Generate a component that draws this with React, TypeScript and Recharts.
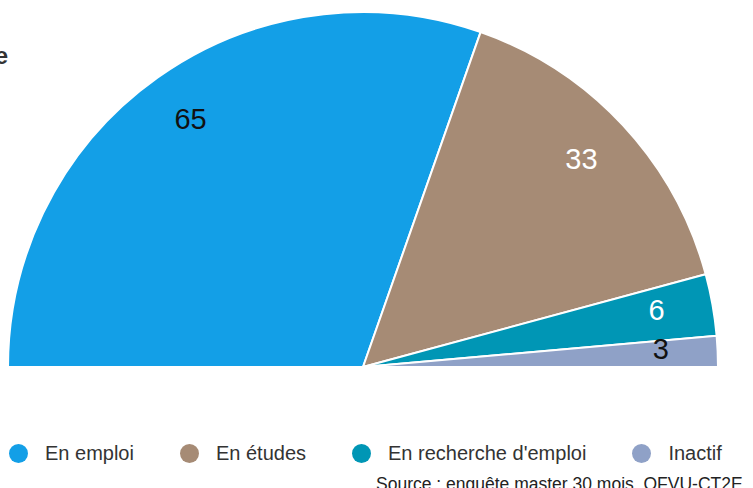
import { PieChart, Pie, Cell } from 'recharts'

const categories = ['En emploi', 'En études', "En recherche d'emploi", 'Inactif']
const values = [65, 33, 6, 3]
const colors = ['#139FE7', '#A68B75', '#0096B5', '#8FA1C7']
const labelColors = ['#111', '#fff', '#fff', '#111']
const title = 'Situation 30 mois après le diplôme'
const source = 'Source : enquête master 30 mois, OFVU-CT2E'

const data = categories.map((name, i) => ({ name, value: values[i] }))
const RAD = Math.PI / 180
const font = 'Liberation Sans, Arial'

function SliceLabel({ cx, cy, midAngle, outerRadius, index, value }: any) {
  const r = outerRadius * 0.84
  const x = cx + r * Math.cos(-midAngle * RAD)
  const y = cy + r * Math.sin(-midAngle * RAD) - 5
  return (
    <text x={x} y={y} fill={labelColors[index]} textAnchor="middle" dominantBaseline="central"
      style={{ fontFamily: font, fontSize: 29 }}>
      {value}
    </text>
  )
}

export default function App() {
  return (
    <div style={{ position: 'fixed', left: 0, top: 0, width: 753, height: 488, overflow: 'hidden', background: '#fff' }}>
      <div style={{ position: 'absolute', right: 745, top: 42, whiteSpace: 'nowrap', fontFamily: font, fontWeight: 700, fontSize: 24, color: '#333' }}>
        {title}
      </div>
      <PieChart width={753} height={488} margin={{ top: 0, right: 0, bottom: 0, left: 0 }}>
        <Pie data={data} dataKey="value" nameKey="name" cx={363} cy={367} outerRadius={355}
          startAngle={180} endAngle={0} stroke="#fff" strokeWidth={2}
          label={SliceLabel} labelLine={false} isAnimationActive={false}>
          {data.map((d, i) => <Cell key={d.name} fill={colors[i]} />)}
        </Pie>
      </PieChart>
      <div style={{ position: 'absolute', left: 9, top: 442, display: 'flex', alignItems: 'center', whiteSpace: 'nowrap', fontFamily: font, fontSize: 20, color: '#333' }}>
        {data.map((d, i) => (
          <div key={d.name} style={{ display: 'flex', alignItems: 'center', marginRight: 46 }}>
            <div style={{ width: 19, height: 19, borderRadius: '50%', background: colors[i], marginRight: 17 }} />
            <span>{d.name}</span>
          </div>
        ))}
      </div>
      <div style={{ position: 'absolute', left: 376, top: 474, whiteSpace: 'nowrap', fontFamily: font, fontSize: 17.5, color: '#222' }}>
        {source}
      </div>
    </div>
  )
}
